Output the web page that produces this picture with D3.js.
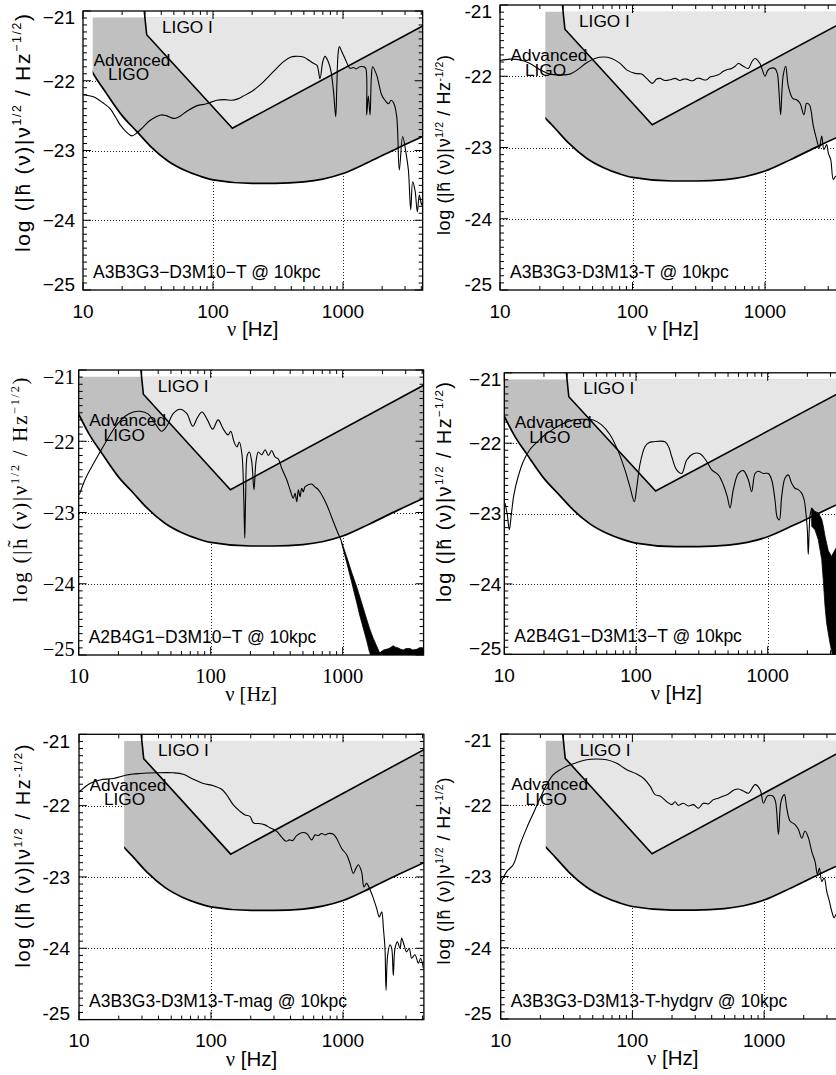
<!DOCTYPE html>
<html>
<head>
<meta charset="utf-8">
<script src="https://cdn.jsdelivr.net/npm/d3@7"></script>
<style>
  body { margin: 0; background: #fff; }
  .det { font-family: 'Liberation Sans', Arial, Helvetica, sans-serif; font-size: 17.3px;
         line-height: 14.2px; white-space: pre; color: #000; margin: 0; padding: 0; }
</style>
</head>
<body>
<svg id="fig" width="836" height="1075" font-family="'Liberation Sans', Arial, Helvetica, sans-serif"></svg>
<script>
// ---------------------------------------------------------------------------
// Axis values
// ---------------------------------------------------------------------------
const nuDomain = [10, 4100];               // ν [Hz]
const logHDomain = [-25, -21];             // log |h̃(ν)| ν^1/2
const nuMajorTicks = [10, 100, 1000];
const nuMinorTicks = [20, 30, 40, 50, 60, 70, 80, 90, 200, 300, 400, 500, 600, 700, 800, 900, 2000, 3000, 4000];
const logHMajorTicks = [-21, -22, -23, -24, -25];
const nuGrid = [100, 1000];
const logHGrid = [-22, -23, -24];
const fillTop = -21.09;                    // upper edge of the shaded detector regions

// ---------------------------------------------------------------------------
// Detector sensitivity curves  [log10 ν, log h]
// ---------------------------------------------------------------------------
const advancedLigo = [
  [1.000, -21.62], [1.0745, -21.885], [1.176, -22.17], [1.301, -22.50], [1.415, -22.73],
  [1.519, -22.94], [1.653, -23.15], [1.778, -23.28], [1.903, -23.37], [2.000, -23.42],
  [2.301, -23.47], [2.477, -23.47], [2.699, -23.45], [2.845, -23.41], [3.000, -23.33],
  [3.204, -23.16], [3.415, -22.97], [3.613, -22.80]
];
const ligoI = [
  [1.460, -20.80], [1.490, -21.34], [2.149, -22.68], [3.613, -21.215]
];

// ---------------------------------------------------------------------------
// Signal spectra  [log10 ν, log h]
// ---------------------------------------------------------------------------
const specA3B3G3_D3M10 = [
  [1.000, -22.20], [1.080, -22.23], [1.156, -22.32], [1.208, -22.40], [1.250, -22.52],
  [1.285, -22.63], [1.336, -22.74], [1.375, -22.79], [1.413, -22.75], [1.464, -22.66],
  [1.515, -22.57], [1.560, -22.52], [1.600, -22.49], [1.640, -22.50], [1.700, -22.54],
  [1.735, -22.52], [1.797, -22.44], [1.874, -22.36], [1.950, -22.33], [2.028, -22.28],
  [2.090, -22.27], [2.144, -22.28], [2.190, -22.26], [2.233, -22.22], [2.300, -22.15],
  [2.362, -22.06], [2.464, -21.87], [2.541, -21.73], [2.600, -21.66], [2.631, -21.65],
  [2.695, -21.66], [2.740, -21.71], [2.772, -21.75], [2.800, -21.78], [2.823, -21.97],
  [2.845, -21.72], [2.862, -21.65], [2.885, -21.72], [2.905, -21.84], [2.926, -22.13],
  [2.944, -22.515], [2.952, -22.10], [2.962, -21.62], [2.972, -21.51], [2.990, -21.58],
  [3.015, -21.68], [3.054, -21.82], [3.080, -21.81], [3.100, -21.83], [3.130, -21.80],
  [3.160, -21.80], [3.175, -21.82], [3.182, -22.49], [3.195, -22.22], [3.208, -22.49],
  [3.218, -21.95], [3.228, -21.80], [3.259, -21.92], [3.297, -22.20], [3.323, -22.28],
  [3.350, -22.33], [3.370, -22.28], [3.390, -22.32], [3.413, -22.51], [3.433, -23.28],
  [3.459, -22.80], [3.485, -23.04], [3.503, -23.28], [3.521, -23.85], [3.536, -23.45],
  [3.554, -23.57], [3.572, -23.88], [3.587, -23.64], [3.605, -23.78], [3.613, -23.72]
];
const specA3B3G3_D3M13 = [
  [1.000, -21.78], [1.075, -21.76], [1.151, -21.77], [1.226, -21.82], [1.302, -21.91],
  [1.377, -21.97], [1.453, -21.98], [1.528, -21.97], [1.591, -21.90], [1.654, -21.81],
  [1.717, -21.75], [1.780, -21.73], [1.843, -21.75], [1.906, -21.82], [1.956, -21.91],
  [2.019, -21.96], [2.069, -21.97], [2.107, -22.03], [2.150, -22.10], [2.182, -22.04],
  [2.208, -22.03], [2.245, -22.06], [2.283, -22.05], [2.321, -22.03], [2.358, -22.06],
  [2.385, -22.04], [2.409, -22.04], [2.435, -22.06], [2.459, -22.06], [2.485, -22.03],
  [2.509, -22.03], [2.535, -22.05], [2.560, -22.05], [2.585, -22.01], [2.610, -22.00],
  [2.648, -21.98], [2.686, -21.93], [2.711, -21.91], [2.748, -21.89], [2.775, -21.86],
  [2.799, -21.82], [2.836, -21.86], [2.874, -21.89], [2.900, -21.80], [2.925, -21.75],
  [2.962, -21.82], [3.000, -22.00], [3.020, -21.92], [3.038, -21.89], [3.075, -21.89],
  [3.093, -21.96], [3.105, -22.20], [3.118, -22.54], [3.128, -22.20], [3.138, -21.98],
  [3.156, -21.86], [3.176, -22.14], [3.209, -22.31], [3.239, -22.33], [3.264, -22.38],
  [3.294, -22.54], [3.314, -22.38], [3.335, -22.40], [3.365, -22.70], [3.390, -22.89],
  [3.410, -23.01], [3.428, -22.84], [3.445, -23.03], [3.465, -22.96], [3.478, -23.08],
  [3.496, -23.17], [3.516, -23.45], [3.536, -23.40], [3.560, -23.50], [3.600, -23.65]
];
const specA2B4G1_D3M10 = [
  [1.005, -22.75], [1.048, -22.54], [1.098, -22.36], [1.162, -22.15], [1.225, -21.95],
  [1.288, -21.77], [1.351, -21.65], [1.414, -21.59], [1.465, -21.58], [1.528, -21.62],
  [1.578, -21.75], [1.629, -21.86], [1.667, -21.79], [1.717, -21.61], [1.768, -21.55],
  [1.818, -21.61], [1.864, -21.79], [1.899, -21.67], [1.934, -21.59], [1.975, -21.70],
  [2.015, -21.83], [2.056, -21.70], [2.096, -21.83], [2.131, -21.91], [2.152, -21.86],
  [2.177, -22.01], [2.199, -22.08], [2.217, -22.01], [2.237, -22.19], [2.250, -22.75],
  [2.258, -23.36], [2.265, -22.75], [2.278, -22.19], [2.293, -22.15], [2.311, -22.29],
  [2.328, -22.68], [2.343, -22.29], [2.361, -22.15], [2.386, -22.19], [2.412, -22.12],
  [2.437, -22.20], [2.462, -22.13], [2.487, -22.22], [2.513, -22.25], [2.538, -22.38],
  [2.576, -22.54], [2.601, -22.68], [2.626, -22.80], [2.639, -22.73], [2.652, -22.85],
  [2.664, -22.68], [2.677, -22.78], [2.689, -22.66], [2.702, -22.71], [2.714, -22.64],
  [2.740, -22.61], [2.765, -22.60], [2.790, -22.64], [2.815, -22.68], [2.841, -22.75],
  [2.879, -22.89], [2.917, -23.07], [2.955, -23.25], [2.990, -23.40]
];
// rapidly oscillating tail, drawn as a filled envelope  [log10 ν, upper, lower]
const tailA2B4G1_D3M10 = [
  [2.990, -23.40, -23.42], [3.030, -23.62, -23.70], [3.068, -23.84, -23.98],
  [3.111, -24.07, -24.30], [3.126, -24.16, -24.42], [3.182, -24.50, -24.80],
  [3.202, -24.62, -24.95], [3.230, -24.76, -25.10], [3.280, -24.97, -25.10],
  [3.310, -24.93, -25.10], [3.350, -24.91, -25.10], [3.383, -24.87, -25.10],
  [3.400, -24.89, -25.10], [3.421, -24.90, -25.10], [3.440, -24.92, -25.10],
  [3.459, -24.93, -25.10], [3.480, -24.91, -25.10], [3.510, -24.91, -25.10],
  [3.530, -24.93, -25.10], [3.561, -24.92, -25.10], [3.580, -24.90, -25.10],
  [3.598, -24.90, -25.10], [3.613, -24.92, -25.10]
];
const specA2B4G1_D3M13 = [
  [1.005, -22.85], [1.023, -23.02], [1.038, -23.23], [1.053, -23.02], [1.073, -22.73],
  [1.106, -22.47], [1.144, -22.26], [1.195, -22.09], [1.246, -21.99], [1.309, -21.88],
  [1.372, -21.80], [1.448, -21.72], [1.524, -21.67], [1.600, -21.66], [1.676, -21.67],
  [1.739, -21.74], [1.803, -21.88], [1.866, -22.12], [1.916, -22.38], [1.954, -22.62],
  [1.987, -22.83], [2.005, -22.64], [2.030, -22.30], [2.068, -22.05], [2.100, -21.99],
  [2.131, -21.98], [2.220, -21.98], [2.250, -22.06], [2.271, -22.19], [2.309, -22.38],
  [2.347, -22.43], [2.385, -22.24], [2.435, -22.15], [2.486, -22.15], [2.537, -22.26],
  [2.575, -22.38], [2.625, -22.45], [2.663, -22.59], [2.693, -22.76], [2.714, -22.92],
  [2.739, -22.66], [2.777, -22.43], [2.815, -22.39], [2.853, -22.52], [2.878, -22.69],
  [2.904, -22.43], [2.929, -22.40], [2.967, -22.43], [3.005, -22.43], [3.030, -22.52],
  [3.055, -22.80], [3.073, -23.06], [3.088, -23.09], [3.106, -22.76], [3.131, -22.50],
  [3.156, -22.45], [3.182, -22.57], [3.207, -22.64], [3.232, -22.66], [3.258, -22.71],
  [3.276, -22.80], [3.289, -22.97], [3.301, -23.23], [3.308, -23.58], [3.321, -23.04],
  [3.334, -22.92]
];
const tailA2B4G1_D3M13 = [
  [3.334, -22.92, -23.18], [3.359, -22.97, -23.23], [3.384, -22.99, -23.37],
  [3.410, -23.08, -23.65], [3.422, -23.18, -23.94], [3.435, -23.32, -24.31],
  [3.447, -23.42, -24.55], [3.460, -23.53, -24.70], [3.473, -23.57, -24.84],
  [3.485, -23.61, -24.95], [3.498, -23.56, -25.07], [3.519, -23.49, -25.10],
  [3.560, -23.50, -25.10]
];
const specA3B3G3_D3M13_mag = [
  [1.000, -21.81], [1.083, -21.69], [1.159, -21.64], [1.260, -21.62], [1.361, -21.57],
  [1.462, -21.55], [1.588, -21.54], [1.715, -21.54], [1.790, -21.56], [1.866, -21.63],
  [1.942, -21.69], [2.018, -21.72], [2.081, -21.77], [2.119, -21.85], [2.169, -21.99],
  [2.220, -22.08], [2.258, -22.13], [2.295, -22.15], [2.316, -22.23], [2.333, -22.25],
  [2.359, -22.25], [2.409, -22.27], [2.447, -22.31], [2.497, -22.36], [2.535, -22.44],
  [2.568, -22.50], [2.593, -22.48], [2.619, -22.49], [2.649, -22.42], [2.687, -22.38],
  [2.725, -22.39], [2.763, -22.48], [2.788, -22.41], [2.813, -22.42], [2.838, -22.39],
  [2.864, -22.41], [2.889, -22.39], [2.927, -22.40], [2.952, -22.46], [2.990, -22.60],
  [3.028, -22.69], [3.053, -22.81], [3.078, -22.95], [3.098, -22.88], [3.116, -22.83],
  [3.141, -22.93], [3.159, -23.14], [3.179, -23.09], [3.205, -23.18], [3.230, -23.30],
  [3.255, -23.44], [3.275, -23.56], [3.293, -23.49], [3.306, -23.72], [3.318, -24.00],
  [3.326, -24.59], [3.338, -24.10], [3.356, -23.95], [3.369, -24.00], [3.381, -24.38],
  [3.394, -24.00], [3.412, -23.91], [3.432, -24.00], [3.444, -23.86], [3.462, -23.95],
  [3.482, -24.05], [3.502, -24.00], [3.520, -24.14], [3.545, -24.09], [3.571, -24.21],
  [3.588, -24.14], [3.609, -24.28]
];
const specA3B3G3_D3M13_hydgrv = [
  [1.000, -23.09], [1.046, -22.93], [1.096, -22.83], [1.147, -22.55], [1.197, -22.32],
  [1.248, -22.11], [1.299, -21.90], [1.349, -21.71], [1.400, -21.57], [1.451, -21.50],
  [1.501, -21.45], [1.577, -21.40], [1.653, -21.36], [1.729, -21.35], [1.805, -21.36],
  [1.881, -21.41], [1.957, -21.50], [2.033, -21.56], [2.084, -21.62], [2.134, -21.73],
  [2.172, -21.85], [2.210, -21.87], [2.261, -21.95], [2.299, -21.99], [2.324, -21.95],
  [2.349, -22.00], [2.387, -21.97], [2.425, -22.01], [2.463, -21.99], [2.501, -22.04],
  [2.539, -21.97], [2.577, -21.98], [2.615, -21.92], [2.653, -21.90], [2.691, -21.87],
  [2.729, -21.84], [2.767, -21.79], [2.805, -21.77], [2.843, -21.80], [2.881, -21.83],
  [2.932, -21.71], [2.970, -21.78], [2.995, -21.97], [3.025, -21.87], [3.066, -21.87],
  [3.086, -21.94], [3.109, -22.41], [3.129, -21.94], [3.154, -21.85], [3.172, -22.04],
  [3.197, -22.22], [3.235, -22.27], [3.261, -22.34], [3.286, -22.46], [3.311, -22.36],
  [3.337, -22.46], [3.362, -22.65], [3.387, -22.79], [3.405, -22.97], [3.420, -22.88],
  [3.438, -23.07], [3.456, -23.02], [3.476, -23.21], [3.496, -23.35], [3.514, -23.49],
  [3.532, -23.58], [3.547, -23.53], [3.580, -23.70]
];

// ---------------------------------------------------------------------------
// Panel set-up: labels, spectra and frame geometry
// ---------------------------------------------------------------------------
const panels = [
  { label: "A3B3G3\u2212D3M10\u2212T @ 10kpc", minus: "\u2212", serif: false,
    spec: specA3B3G3_D3M10, tail: null, advStart: 11.87,
    x0: 83, dec: 130, y0: 11, y1: 290, tickGap: 8,
    yTitle: { x: 22.5, y: 133, len: 238, size: 21 } },
  { label: "A3B3G3-D3M13-T @ 10kpc", minus: "-", serif: false,
    spec: specA3B3G3_D3M13, tail: null, advStart: 22,
    x0: 500, dec: 132.5, y0: 5, y1: 290, tickGap: 8,
    yTitle: { x: 444, y: 145, len: 180, size: 18 } },
  { label: "A2B4G1\u2212D3M10\u2212T @ 10kpc", minus: "\u2212", serif: true,
    spec: specA2B4G1_D3M10, tail: tailA2B4G1_D3M10, advStart: 10,
    x0: 78.7, dec: 132, y0: 370, y1: 655, tickGap: 4,
    yTitle: { x: 20, y: 490, len: 225, size: 21 } },
  { label: "A2B4G1\u2212D3M13\u2212T @ 10kpc", minus: "\u2212", serif: false,
    spec: specA2B4G1_D3M13, tail: tailA2B4G1_D3M13, advStart: 10,
    x0: 504.3, dec: 131.7, y0: 372.8, y1: 654.3, tickGap: 3,
    yTitle: { x: 444, y: 492, len: 220, size: 20 } },
  { label: "A3B3G3-D3M13-T-mag @ 10kpc", minus: "-", serif: false,
    spec: specA3B3G3_D3M13_mag, tail: null, advStart: 22,
    x0: 79, dec: 132, y0: 734.3, y1: 1019.6, tickGap: 9,
    yTitle: { x: 23, y: 856, len: 223, size: 20 } },
  { label: "A3B3G3-D3M13-T-hydgrv @ 10kpc", minus: "-", serif: false,
    spec: specA3B3G3_D3M13_hydgrv, tail: null, advStart: 22,
    x0: 500.7, dec: 131.7, y0: 734.1, y1: 1019, tickGap: 9,
    yTitle: { x: 444, y: 871, len: 187, size: 18 } }
];

const SANS = "'Liberation Sans', Arial, Helvetica, sans-serif";
const SERIF = "'Liberation Serif', 'Times New Roman', Times, serif";
const DARK = "#c0c0c0", LIGHT = "#e6e6e6";

const svg = d3.select("#fig");
const toPt = d => [Math.pow(10, d[0]), d[1]];

panels.forEach((p, i) => {
  const x1 = p.x0 + p.dec * Math.log10(nuDomain[1] / nuDomain[0]);
  const x = d3.scaleLog().domain(nuDomain).range([p.x0, x1]);
  const y = d3.scaleLinear().domain(logHDomain).range([p.y1, p.y0]);
  const g = svg.append("g");
  const defs = g.append("defs");

  const clip = (id, rx0, ry0, rx1, ry1) => {
    defs.append("clipPath").attr("id", id).append("rect")
      .attr("x", rx0).attr("y", ry0).attr("width", rx1 - rx0).attr("height", ry1 - ry0);
    return `url(#${id})`;
  };
  const frameClip = clip(`frame${i}`, p.x0, p.y0, x1, p.y1);
  const advClip = clip(`adv${i}`, x(p.advStart), y(fillTop), x1, p.y1);
  const ligoClip = clip(`ligo${i}`, p.x0, y(fillTop), x1, p.y1);

  // dotted grid
  const grid = g.append("g").attr("stroke", "#222").attr("stroke-width", 1)
    .attr("stroke-dasharray", "1,2").attr("shape-rendering", "crispEdges");
  logHGrid.forEach(v => grid.append("line")
    .attr("x1", p.x0).attr("x2", x1).attr("y1", Math.round(y(v)) + 0.5).attr("y2", Math.round(y(v)) + 0.5));
  nuGrid.forEach(f => grid.append("line")
    .attr("x1", Math.round(x(f)) + 0.5).attr("x2", Math.round(x(f)) + 0.5).attr("y1", p.y0).attr("y2", p.y1));

  const pts = (arr) => arr.map(toPt);
  const line = d3.line().x(d => x(d[0])).y(d => y(d[1]));

  // Advanced LIGO band
  const advArea = d3.area().x(d => x(d[0])).y0(y(fillTop)).y1(d => y(d[1])).curve(d3.curveMonotoneX);
  g.append("path").datum(pts(advancedLigo)).attr("d", advArea)
    .attr("fill", DARK).attr("clip-path", advClip);
  // LIGO I band
  const ligoArea = d3.area().x(d => x(d[0])).y0(y(fillTop)).y1(d => y(d[1]));
  g.append("path").datum(pts(ligoI)).attr("d", ligoArea)
    .attr("fill", LIGHT).attr("clip-path", ligoClip);

  // sensitivity curves
  g.append("path").datum(pts(advancedLigo))
    .attr("d", d3.line().x(d => x(d[0])).y(d => y(d[1])).curve(d3.curveMonotoneX))
    .attr("fill", "none").attr("stroke", "#000").attr("stroke-width", 1.7)
    .attr("clip-path", advClip);
  g.append("path").datum(pts(ligoI)).attr("d", line)
    .attr("fill", "none").attr("stroke", "#000").attr("stroke-width", 1.6)
    .attr("stroke-linejoin", "miter").attr("clip-path", frameClip);

  // detector labels
  g.append("text").attr("x", p.x0 + 79).attr("y", p.y0 + 21.5)
    .attr("font-family", SANS).attr("font-size", 17.3).text("LIGO I");
  const advY = p.y0 + 0.198 * (p.y1 - p.y0);
  g.append("foreignObject")
    .attr("x", p.x0 + 10.5).attr("y", advY - 13.1).attr("width", 100).attr("height", 34)
    .append("xhtml:div").attr("class", "det").text("Advanced\n   LIGO");

  // signal spectrum
  const sg = g.append("g").attr("clip-path", frameClip);
  sg.append("path").datum(pts(p.spec))
    .attr("d", d3.line().x(d => x(d[0])).y(d => y(d[1])).curve(d3.curveCatmullRom.alpha(0.5)))
    .attr("fill", "none").attr("stroke", "#000").attr("stroke-width", 1.1)
    .attr("stroke-linejoin", "round");
  if (p.tail) {
    const tailArea = d3.area().x(d => x(Math.pow(10, d[0]))).y0(d => y(d[2])).y1(d => y(d[1]));
    sg.append("path").datum(p.tail).attr("d", tailArea)
      .attr("fill", "#000").attr("stroke", "#000").attr("stroke-width", 0.8);
  }

  // model label
  g.append("text").attr("x", p.x0 + 10).attr("y", p.y1 - 12.5)
    .attr("font-family", SANS).attr("font-size", 17.5).text(p.label);

  // frame and ticks
  const tk = g.append("g").attr("stroke", "#000").attr("stroke-width", 1);
  const majL = 8, minL = 4;
  nuMajorTicks.concat(nuMinorTicks).forEach(f => {
    const L = nuMajorTicks.includes(f) ? majL : minL;
    const xx = x(f);
    tk.append("line").attr("x1", xx).attr("x2", xx).attr("y1", p.y1).attr("y2", p.y1 - L);
    tk.append("line").attr("x1", xx).attr("x2", xx).attr("y1", p.y0).attr("y2", p.y0 + L);
  });
  d3.range(0, 41).forEach(k => {
    const v = logHDomain[0] + k * 0.1;
    const L = (k % 10 === 0) ? majL : minL;
    const yy = y(v);
    tk.append("line").attr("x1", p.x0).attr("x2", p.x0 + L).attr("y1", yy).attr("y2", yy);
    tk.append("line").attr("x1", x1).attr("x2", x1 - L).attr("y1", yy).attr("y2", yy);
  });
  g.append("rect").attr("x", p.x0).attr("y", p.y0)
    .attr("width", x1 - p.x0).attr("height", p.y1 - p.y0)
    .attr("fill", "none").attr("stroke", "#000").attr("stroke-width", 1.3);

  // tick labels
  const font = p.serif ? SERIF : SANS;
  const tsize = p.serif ? 20.5 : 19;
  nuMajorTicks.forEach(f => {
    g.append("text").attr("x", x(f)).attr("y", p.y1 + 27.5)
      .attr("text-anchor", "middle").attr("font-family", font).attr("font-size", tsize)
      .text(d3.format("d")(f));
  });
  logHMajorTicks.forEach(v => {
    let yy = y(v);
    if (v === logHDomain[1]) yy += 6.5;
    if (v === logHDomain[0]) yy -= 6;
    g.append("text").attr("x", p.x0 - p.tickGap).attr("y", yy + 0.36 * tsize)
      .attr("text-anchor", "end").attr("font-family", font).attr("font-size", tsize)
      .text(p.minus + Math.abs(v));
  });

  // axis titles
  const xt = g.append("text").attr("x", (p.x0 + x1) / 2).attr("y", p.y1 + 46)
    .attr("text-anchor", "middle").attr("font-family", font).attr("font-size", 20.5);
  xt.append("tspan").attr("font-family", SERIF).text("\u03bd");
  xt.append("tspan").text(" [Hz]");

  const t = p.yTitle;
  const yt = g.append("text")
    .attr("transform", `translate(${t.x},${t.y}) rotate(-90)`)
    .attr("text-anchor", "middle").attr("font-family", font).attr("font-size", t.size)
    .attr("dy", "0.35em")
    .attr("textLength", t.len).attr("lengthAdjust", "spacing");
  yt.append("tspan").text("log (|h\u0303 (\u03bd)|\u03bd");
  yt.append("tspan").attr("font-size", t.size * 0.58).attr("dy", -t.size * 0.42).text("1/2");
  yt.append("tspan").attr("dy", t.size * 0.42).text(" / Hz");
  yt.append("tspan").attr("font-size", t.size * 0.58).attr("dy", -t.size * 0.42).text(p.minus + "1/2");
  yt.append("tspan").attr("dy", t.size * 0.42).text(")");
});
</script>
</body>
</html>
